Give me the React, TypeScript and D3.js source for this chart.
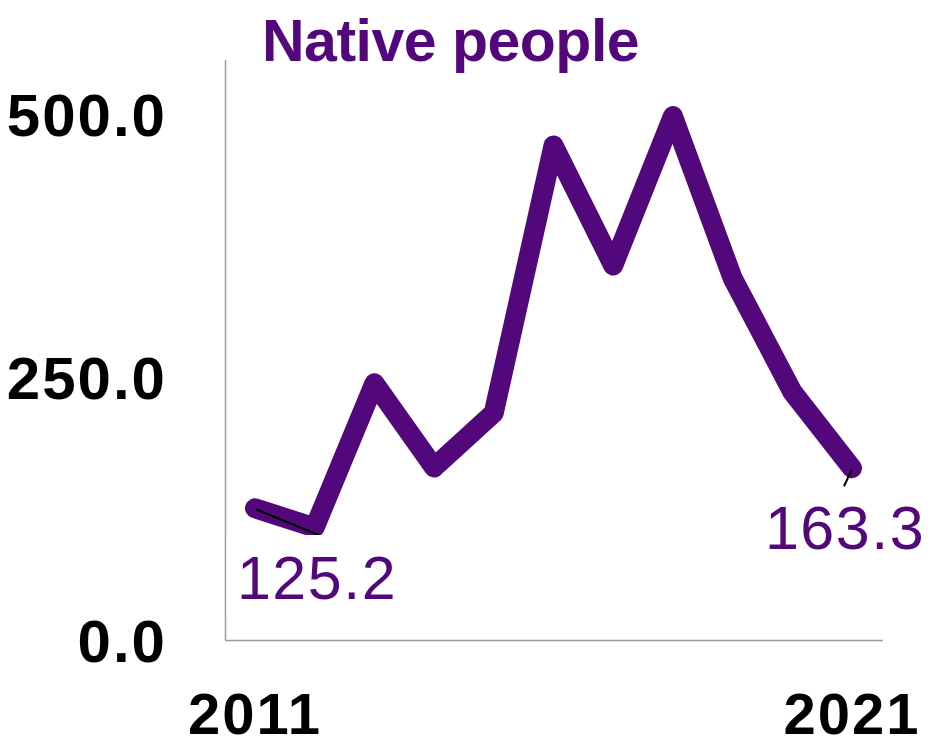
import React from "react";
import * as d3 from "d3";

const title = "Native people";
const years = [2011, 2012, 2013, 2014, 2015, 2016, 2017, 2018, 2019, 2020, 2021];
const values = [125.2, 107, 244, 164, 216, 470, 356, 498, 344, 236, 163.3];
const yTicks = [0, 250, 500];
const xTickLabels = [2011, 2021];

const W = 941;
const H = 746;
const PURPLE = "#52077a";
const FONT = "'Liberation Sans', Arial, sans-serif";

export default function App() {
  const x = d3.scaleLinear().domain([2011, 2021]).range([255, 852]);
  const y = d3.scaleLinear().domain([0, 500]).range([640, 114]);
  const data = years.map((yr, i) => ({ yr, v: values[i] }));
  const line = d3
    .line<{ yr: number; v: number }>()
    .x((d) => x(d.yr))
    .y((d) => y(d.v));

  const first = data[0];
  const last = data[data.length - 1];
  const fx = x(first.yr);
  const fy = y(first.v);
  const lx = x(last.yr);
  const ly = y(last.v);

  return (
    <svg
      width={W}
      height={H}
      style={{ position: "absolute", left: 0, top: 0, background: "#fff" }}
    >
      {/* axes */}
      <line x1={225.5} x2={225.5} y1={60} y2={640} stroke="#9a9a9a" strokeWidth={1.5} />
      <line x1={225} x2={883} y1={640.5} y2={640.5} stroke="#9a9a9a" strokeWidth={1.5} />

      {/* y tick labels */}
      {yTicks.map((t) => (
        <text
          key={t}
          x={167}
          y={y(t) + 22}
          textAnchor="end"
          fontFamily={FONT}
          fontWeight="bold"
          fontSize={60}
          letterSpacing={2}
          fill="#000"
        >
          {t.toFixed(1)}
        </text>
      ))}

      {/* x tick labels */}
      {xTickLabels.map((t) => (
        <text
          key={t}
          x={x(t)}
          y={734}
          textAnchor="middle"
          fontFamily={FONT}
          fontWeight="bold"
          fontSize={58}
          letterSpacing={2}
          fill="#000"
        >
          {t}
        </text>
      ))}

      {/* data line */}
      <path
        d={line(data) || ""}
        fill="none"
        stroke={PURPLE}
        strokeWidth={20}
        strokeLinejoin="round"
        strokeLinecap="round"
      />

      {/* leader lines */}
      <line x1={fx + 1} y1={fy + 1} x2={fx + 64} y2={fy + 27} stroke="#000" strokeWidth={2} />
      <line x1={lx} y1={ly + 1} x2={lx - 8} y2={ly + 18} stroke="#000" strokeWidth={2} />

      {/* label box for first value */}
      <rect x={226.5} y={535} width={180} height={82} fill="#fff" />

      <text
        x={fx + 62}
        y={599}
        textAnchor="middle"
        fontFamily={FONT}
        fontSize={61}
        letterSpacing={1.5}
        fill={PURPLE}
      >
        {first.v.toFixed(1)}
      </text>
      <text
        x={lx - 7}
        y={549}
        textAnchor="middle"
        fontFamily={FONT}
        fontSize={61}
        letterSpacing={1.5}
        fill={PURPLE}
      >
        {last.v.toFixed(1)}
      </text>

      {/* title */}
      <text
        x={262}
        y={61}
        fontFamily={FONT}
        fontWeight="bold"
        fontSize={59}
        letterSpacing={-0.5}
        fill={PURPLE}
      >
        {title}
      </text>
    </svg>
  );
}
